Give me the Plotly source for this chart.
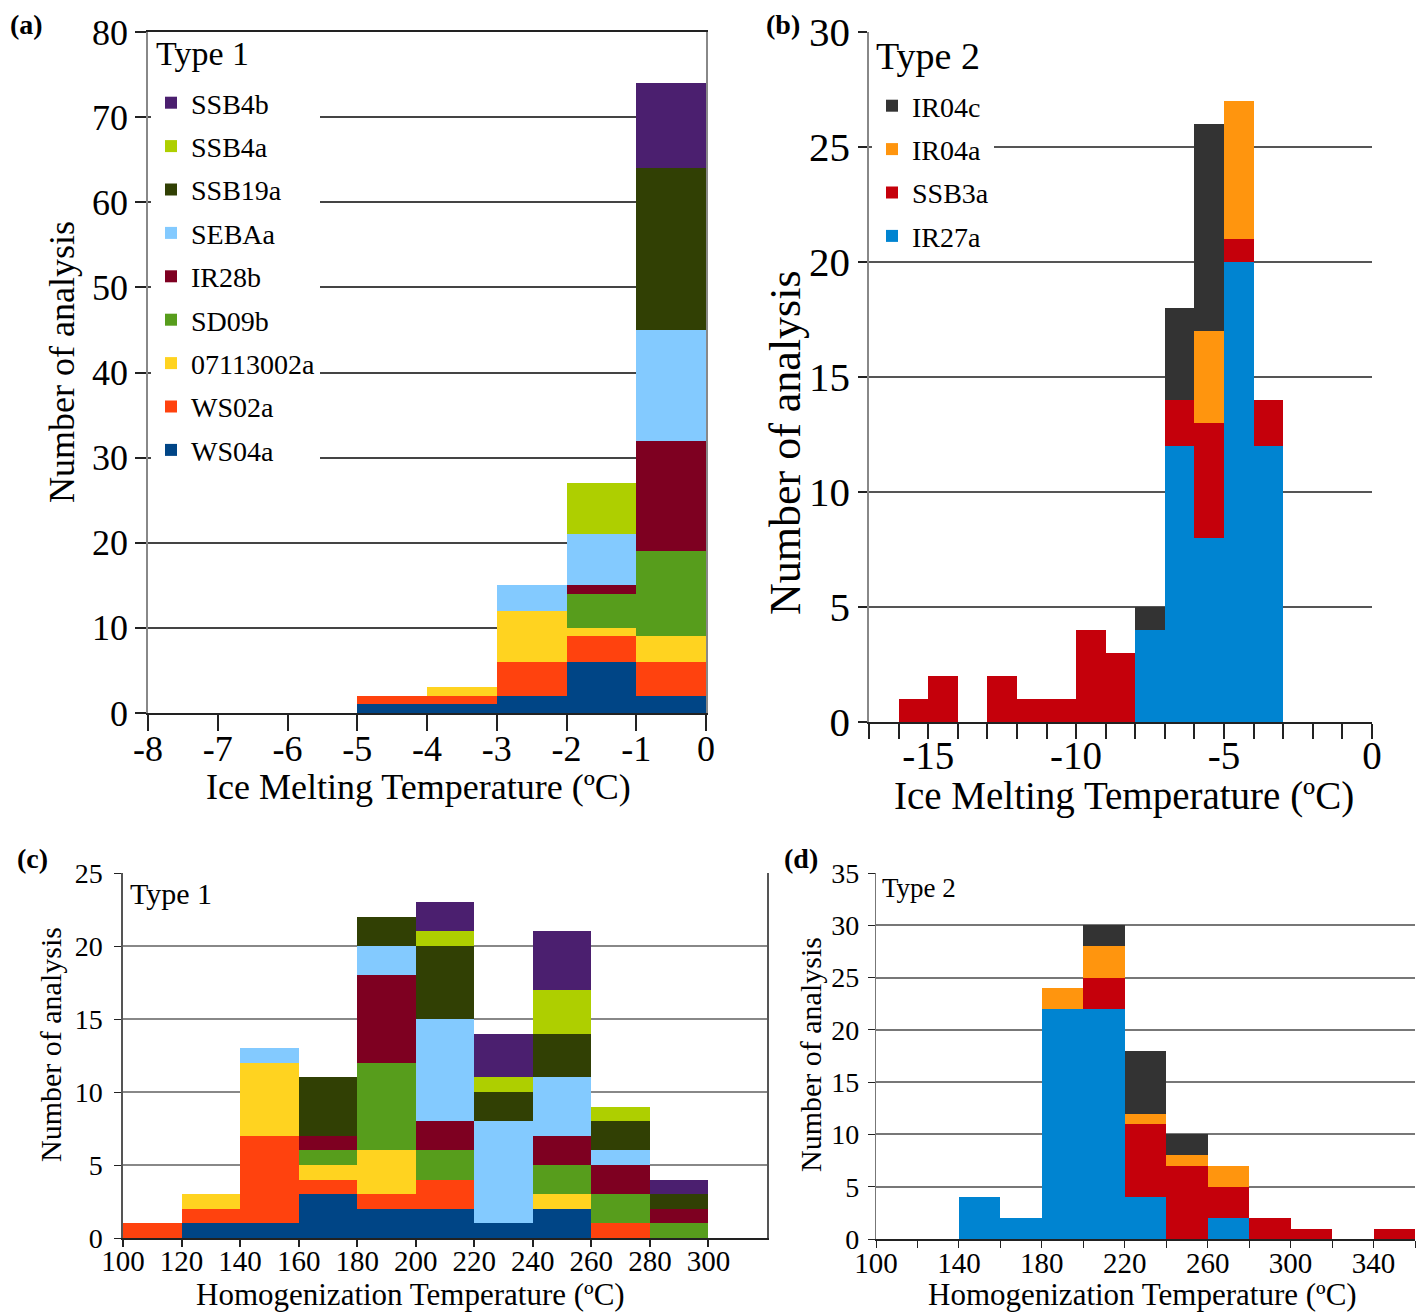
import plotly.graph_objects as go

W, H = 1426, 1312
FONT = "Liberation Serif"
OFF = 8  # page body margin of the browser

# ---------------- data ----------------
# (a) Type 1, ice melting temperature, bins of 1 degC (centres)
a_x = [-4.5, -3.5, -2.5, -1.5, -0.5]
a_WS04a = [1, 1, 2, 6, 2]
a_WS02a = [1, 1, 4, 3, 4]
a_07113002a = [0, 1, 6, 1, 3]
a_SD09b = [0, 0, 0, 4, 10]
a_IR28b = [0, 0, 0, 1, 13]
a_SEBAa = [0, 0, 3, 6, 13]
a_SSB19a = [0, 0, 0, 0, 19]
a_SSB4a = [0, 0, 0, 6, 0]
a_SSB4b = [0, 0, 0, 0, 10]

# (b) Type 2, ice melting temperature
b_x = [-15.5, -14.5, -13.5, -12.5, -11.5, -10.5, -9.5, -8.5, -7.5, -6.5, -5.5, -4.5, -3.5]
b_IR27a = [0, 0, 0, 0, 0, 0, 0, 0, 4, 12, 8, 20, 12]
b_SSB3a = [1, 2, 0, 2, 1, 1, 4, 3, 0, 2, 5, 1, 2]
b_IR04a = [0, 0, 0, 0, 0, 0, 0, 0, 0, 0, 4, 6, 0]
b_IR04c = [0, 0, 0, 0, 0, 0, 0, 0, 1, 4, 9, 0, 0]

# (c) Type 1, homogenization temperature, bins of 20 degC
c_x = [110, 130, 150, 170, 190, 210, 230, 250, 270, 290]
c_WS04a = [0, 1, 1, 3, 2, 2, 1, 2, 0, 0]
c_WS02a = [1, 1, 6, 1, 1, 2, 0, 0, 1, 0]
c_07113002a = [0, 1, 5, 1, 3, 0, 0, 1, 0, 0]
c_SD09b = [0, 0, 0, 1, 6, 2, 0, 2, 2, 1]
c_IR28b = [0, 0, 0, 1, 6, 2, 0, 2, 2, 1]
c_SEBAa = [0, 0, 1, 0, 2, 7, 7, 4, 1, 0]
c_SSB19a = [0, 0, 0, 4, 2, 5, 2, 3, 2, 1]
c_SSB4a = [0, 0, 0, 0, 0, 1, 1, 3, 1, 0]
c_SSB4b = [0, 0, 0, 0, 0, 2, 3, 4, 0, 1]

# (d) Type 2, homogenization temperature
d_x = [110, 130, 150, 170, 190, 210, 230, 250, 270, 290, 310, 330, 350]
d_IR27a = [0, 0, 4, 2, 22, 22, 4, 0, 2, 0, 0, 0, 0]
d_SSB3a = [0, 0, 0, 0, 0, 3, 7, 7, 3, 2, 1, 0, 1]
d_IR04a = [0, 0, 0, 0, 2, 3, 1, 1, 2, 0, 0, 0, 0]
d_IR04c = [0, 0, 0, 0, 0, 2, 6, 2, 0, 0, 0, 0, 0]

type1_names = ["WS04a", "WS02a", "07113002a", "SD09b", "IR28b", "SEBAa", "SSB19a", "SSB4a", "SSB4b"]
type1_colors = ["#004586", "#ff420e", "#ffd320", "#579d1c", "#7e0021", "#83caff", "#314004", "#aecf00", "#4b1f6f"]
type2_names = ["IR27a", "SSB3a", "IR04a", "IR04c"]
type2_colors = ["#0084d1", "#c5000b", "#ff950e", "#333333"]

a_ticks = [-8, -7, -6, -5, -4, -3, -2, -1, 0]
b_ticks = [-15, -10, -5, 0]
c_ticks = [100, 120, 140, 160, 180, 200, 220, 240, 260, 280, 300]
d_ticks = [100, 140, 180, 220, 260, 300, 340]

a_vals = [a_WS04a, a_WS02a, a_07113002a, a_SD09b, a_IR28b, a_SEBAa, a_SSB19a, a_SSB4a, a_SSB4b]
c_vals = [c_WS04a, c_WS02a, c_07113002a, c_SD09b, c_IR28b, c_SEBAa, c_SSB19a, c_SSB4a, c_SSB4b]
b_vals = [b_IR27a, b_SSB3a, b_IR04a, b_IR04c]
d_vals = [d_IR27a, d_SSB3a, d_IR04a, d_IR04c]


def dx(px):
    return (px - OFF) / W


def dy(py):
    return 1 - (py - OFF) / H


def hyphen(v):
    return str(v).replace("\u2212", "-")


fig = go.Figure()

n1 = len(type1_names)
for i, (name, col, va, vc) in enumerate(zip(type1_names, type1_colors, a_vals, c_vals)):
    fig.add_trace(go.Bar(x=a_x, y=va, width=1, name=name, marker=dict(color=col, line=dict(width=0)),
                         xaxis="x", yaxis="y", legend="legend", legendgroup=name, legendrank=100 + n1 - i))
    fig.add_trace(go.Bar(x=c_x, y=vc, width=20, name=name, marker=dict(color=col, line=dict(width=0)),
                         xaxis="x3", yaxis="y3", showlegend=False, legendgroup=name))

n2 = len(type2_names)
for i, (name, col, vb, vd) in enumerate(zip(type2_names, type2_colors, b_vals, d_vals)):
    fig.add_trace(go.Bar(x=b_x, y=vb, width=1, name=name, marker=dict(color=col, line=dict(width=0)),
                         xaxis="x2", yaxis="y2", legend="legend2", legendgroup="t2" + name, legendrank=100 + n2 - i))
    fig.add_trace(go.Bar(x=d_x, y=vd, width=20, name=name, marker=dict(color=col, line=dict(width=0)),
                         xaxis="x4", yaxis="y4", showlegend=False, legendgroup="t2" + name))

tickfont = lambda s: dict(family=FONT, size=s, color="black")

fig.update_layout(
    template="none",
    width=W, height=H,
    margin=dict(l=0, r=0, t=0, b=0, pad=0, autoexpand=False),
    paper_bgcolor="white", plot_bgcolor="white",
    barmode="stack", bargap=0,
    font=dict(family=FONT, color="black"),
    # panel a
    xaxis=dict(domain=[dx(148), dx(706)], anchor="y", range=[-8, 0],
               tickvals=a_ticks, ticktext=[hyphen(v) for v in a_ticks], automargin=False,
               ticks="outside", ticklen=16, tickwidth=1.5, tickcolor="#222", ticklabelstandoff=-13,
               showline=True, linecolor="#222", linewidth=1.5, mirror=True,
               showgrid=False, zeroline=False, tickfont=tickfont(36)),
    yaxis=dict(domain=[dy(713), dy(32)], anchor="x", range=[0, 80], dtick=10, automargin=False,
               ticks="outside", ticklen=11, tickwidth=1.5, tickcolor="#222",
               showline=True, linecolor="#888", linewidth=1.5, mirror=True,
               showgrid=True, gridcolor="#444", gridwidth=1.5, zeroline=False,
               tickfont=tickfont(36)),
    # panel b
    xaxis2=dict(domain=[dx(869), dx(1372)], anchor="y2", range=[-17, 0],
                tickvals=b_ticks, ticktext=[hyphen(v) for v in b_ticks], automargin=False,
                ticks="outside", ticklen=15, tickwidth=1.5, tickcolor="#222", ticklabelstandoff=-17,
                minor=dict(ticks="outside", ticklen=15, tickwidth=1.5, tickcolor="#222", dtick=1, tick0=0, showgrid=False),
                showline=True, linecolor="#222", linewidth=1.5,
                showgrid=False, zeroline=False, tickfont=tickfont(39)),
    yaxis2=dict(domain=[dy(722), dy(32)], anchor="x2", range=[0, 30], dtick=5, automargin=False,
                ticks="outside", ticklen=9, tickwidth=1.5, tickcolor="#222",
                showline=True, linecolor="#888", linewidth=1.5,
                showgrid=True, gridcolor="#555", gridwidth=1.5, zeroline=False,
                tickfont=tickfont(41)),
    # panel c
    xaxis3=dict(domain=[dx(123), dx(767)], anchor="y3", range=[100, 320],
                tickvals=c_ticks, automargin=False,
                ticks="outside", ticklen=7, tickwidth=1.5, tickcolor="#222", ticklabelstandoff=-11,
                showline=True, linecolor="#222", linewidth=1.5,
                showgrid=False, zeroline=False, tickfont=tickfont(29)),
    yaxis3=dict(domain=[dy(1238), dy(873)], anchor="x3", range=[0, 25], dtick=5, automargin=False,
                ticks="outside", ticklen=7, tickwidth=1.2, tickcolor="#222", ticklabelstandoff=6,
                showline=True, linecolor="#555", linewidth=1.5, mirror=True,
                showgrid=True, gridcolor="#888", gridwidth=1.5, zeroline=False,
                tickfont=tickfont(28)),
    # panel d
    xaxis4=dict(domain=[dx(876), dx(1415)], anchor="y4", range=[100, 360],
                tickvals=d_ticks, automargin=False,
                ticks="outside", ticklen=7, tickwidth=1.2, tickcolor="#222", ticklabelstandoff=-10,
                minor=dict(ticks="outside", ticklen=7, tickwidth=1.2, tickcolor="#222", dtick=20, tick0=100, showgrid=False),
                showline=True, linecolor="#222", linewidth=1.5,
                showgrid=False, zeroline=False, tickfont=tickfont(29)),
    yaxis4=dict(domain=[dy(1239), dy(873)], anchor="x4", range=[0, 35], dtick=5, automargin=False,
                ticks="outside", ticklen=7, tickwidth=1.2, tickcolor="#222", ticklabelstandoff=3,
                showline=True, linecolor="#777", linewidth=1.2,
                showgrid=True, gridcolor="#777", gridwidth=1.5, zeroline=False,
                tickfont=tickfont(28)),
    legend=dict(x=dx(151), y=dy(78), xanchor="left", yanchor="top",
                bgcolor="white", borderwidth=0,
                font=dict(family=FONT, size=28, color="black"),
                traceorder="grouped", tracegroupgap=4, itemclick=False),
    legend2=dict(x=dx(872), y=dy(81), xanchor="left", yanchor="top",
                 bgcolor="white", borderwidth=0,
                 font=dict(family=FONT, size=28, color="black"),
                 traceorder="grouped", tracegroupgap=4, itemclick=False),
)

ann = []


def label(text, x, y, size, bold=False, angle=0, xanchor="center"):
    ann.append(dict(text=("<b>%s</b>" % text) if bold else text, x=dx(x), y=dy(y), xref="paper", yref="paper",
                    showarrow=False, xanchor=xanchor, yanchor="middle", textangle=angle,
                    font=dict(family=FONT, size=size, color="black")))


label("(a)", 8, 25, 28, bold=True, xanchor="left")
label("(b)", 764, 25, 28, bold=True, xanchor="left")
label("(c)", 15, 858, 28, bold=True, xanchor="left")
label("(d)", 782, 858, 28, bold=True, xanchor="left")

label("Number of analysis", 62, 362, 36, angle=-90)
label("Ice Melting Temperature (ºC)", 418, 787, 36)
label("Number of analysis", 785, 443, 44, angle=-90)
label("Ice Melting Temperature (ºC)", 1124, 796, 39)
label("Number of analysis", 50, 1045, 30, angle=-90)
label("Homogenization Temperature (ºC)", 410, 1294, 31)
label("Number of analysis", 810, 1055, 30, angle=-90)
label("Homogenization Temperature (ºC)", 1142, 1294, 31)

# legend / panel titles
label("Type 1", 154, 54, 34, xanchor="left")
label("Type 2", 874, 56, 38, xanchor="left")
label("Type 1", 128, 893, 30, xanchor="left")
label("Type 2", 880, 888, 27, xanchor="left")

fig.update_layout(annotations=ann)

fig.write_html("out.html")
